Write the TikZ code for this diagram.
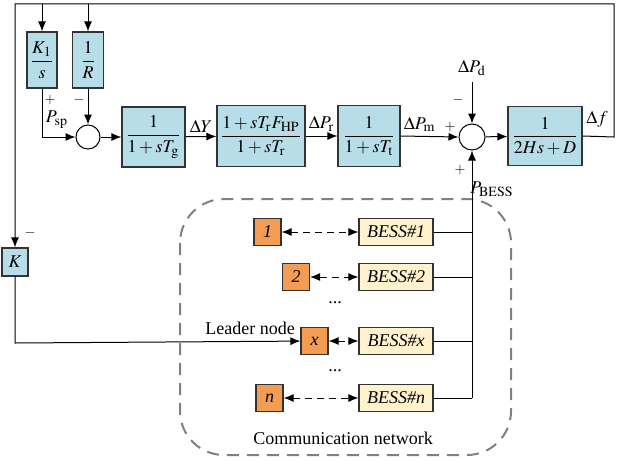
\documentclass[tikz,border=0pt]{standalone}
\usepackage{amsmath}
\usepackage{mathptmx}
\usepackage{fontspec}
\setmainfont{Liberation Serif}
\usetikzlibrary{arrows.meta}

\definecolor{blockblue}{RGB}{182,221,232}
\definecolor{essorange}{RGB}{243,156,84}
\definecolor{besscream}{RGB}{255,242,204}
\definecolor{netgray}{RGB}{128,128,128}

\begin{document}
\begin{tikzpicture}[
    x=0.5pt, y=-0.5pt,
    font=\fontsize{9}{10}\selectfont,
    block/.style = {draw=black!80, fill=blockblue, line width=0.6pt, inner sep=0pt, minimum width=#1},
    block/.default = 30,
    sumnode/.style = {circle, draw, line width=0.5pt, minimum size=12pt, inner sep=0pt},
    ess/.style = {draw=black!80, fill=essorange, line width=0.6pt, minimum size=13.5pt, inner sep=0pt},
    bess/.style = {draw=black!80, fill=besscream, line width=0.6pt, minimum width=37pt, minimum height=13.5pt, inner sep=0pt},
    wire/.style = {line width=0.5pt},
    signal/.style = {wire, -{Latex[length=5pt,width=4pt]}},
    link/.style = {wire, dashed, dash pattern=on 3.5pt off 2.5pt, {Latex[length=5pt,width=4pt]}-{Latex[length=5pt,width=4pt]}},
    sign/.style = {inner sep=0pt, font=\fontsize{7}{7}\selectfont},
    ]
    \useasboundingbox (0,0) rectangle (624,460);

    % communication network
    \draw[netgray, line width=1pt, dash pattern=on 6pt off 4pt, rounded corners=22pt] (180,199) rectangle (511,455);
    \node (netlabel) at (343,438) {Communication network};

    % control loop
    \node[block=15pt, minimum height=28pt] (ki) at (42,60) {$\dfrac{K_1}{s}$};
    \node[block=15.5pt, minimum height=28pt] (droop) at (88,60) {$\dfrac{1}{R}$};
    \node[sumnode] (sum1) at (88,137) {};
    \node[block=31.5pt, minimum height=30pt] (gov) at (153.5,137) {$\dfrac{1}{1+sT_{\mathrm{g}}}$};
    \node[block=44pt, minimum height=30.5pt] (reheat) at (261,136) {$\dfrac{1+sT_{\mathrm{r}}F_{\mathrm{HP}}}{1+sT_{\mathrm{r}}}$};
    \node[block=31pt, minimum height=30.5pt] (turb) at (369,136) {$\dfrac{1}{1+sT_{\mathrm{t}}}$};
    \node[sumnode, minimum size=13pt] (sum2) at (472,137) {};
    \node[block=37pt, minimum height=29.5pt] (load) at (545,136) {$\dfrac{1}{2Hs+D}$};
    \node[block=13pt, minimum height=14pt] (kgain) at (15,262) {$K$};
    \node[inner sep=1pt] (dpd) at (472,68) {$\Delta P_{\mathrm{d}}$};

    \coordinate (fright) at (614,137);
    \coordinate (ftopr) at (614,4);
    \coordinate (ftopl) at (15,4);
    \coordinate (dpdin) at (472,82);

    % BESS units
    \node[ess] (e1) at (267.5,232) {\textit{1}};
    \node[ess] (e2) at (296,277) {\textit{2}};
    \node[ess] (ex) at (314.5,341) {\textit{x}};
    \node[ess] (en) at (269.5,398) {\textit{n}};
    \node[bess] (b1) at (396,232) {\textit{BESS\#1}};
    \node[bess] (b2) at (396,277) {\textit{BESS\#2}};
    \node[bess] (bx) at (396,341) {\textit{BESS\#x}};
    \node[bess] (bn) at (396,398) {\textit{BESS\#n}};
    \node (dots1) at (335,303) {...};
    \node (dots2) at (335,371) {...};

    \coordinate (bus1) at (472,232);
    \coordinate (bus2) at (472,277);
    \coordinate (busx) at (472,341);
    \coordinate (busn) at (472,398);
    \coordinate (lead) at (15,343);

    % feedback path
    \draw[signal] (load.east) -- (fright) -- (ftopr) -- (ftopl) -- (kgain);
    \draw[signal] (ki |- ftopl) -- (ki);
    \draw[signal] (droop |- ftopl) -- (droop);
    \draw[signal] (ki.south) |- (sum1.west);
    \draw[signal] (droop) -- (sum1);
    \draw[signal] (sum1) -- (gov);
    \draw[signal] (gov) -- node[above, inner sep=2pt] {$\Delta Y$} (reheat);
    \draw[signal] (reheat) -- node[above, inner sep=2pt] {$\Delta P_{\mathrm{r}}$} (turb);
    \draw[signal] (turb.east) -- node[above, inner sep=2pt, pos=0.33] {$\Delta P_{\mathrm{m}}$} (sum2.west);
    \draw[signal] (dpdin) -- (sum2);
    \draw[signal] (sum2) -- (load);
    \node (dflabel) at (597,119) {$\Delta f$};

    \node[sign] (s1) at (50,100) {$+$};
    \node (psp) at (57,120) {$P_{\mathrm{sp}}$};
    \node[sign] (s2) at (79,100) {$-$};
    \node[sign] (s3) at (450,127) {$+$};
    \node[sign] (s4) at (458,100) {$-$};
    \node[sign] (s5) at (460,170) {$+$};
    \node (pbess) at (492,189) {$P_{\mathrm{BESS}}$};
    \node[sign] (s6) at (30,233) {$-$};

    % BESS bus
    \draw[wire] (b1) -- (bus1);
    \draw[wire] (b2) -- (bus2);
    \draw[wire] (bx) -- (busx);
    \draw[wire] (bn) -- (busn);
    \draw[signal] (busn) -- (sum2);

    % leader signal and communication
    \draw[signal] (kgain) -- (lead) -- (ex);
    \node (leader) at (250,328) {Leader node};
    \draw[link] (e1) -- (b1);
    \draw[link] (e2) -- (b2);
    \draw[link] (ex) -- (bx);
    \draw[link] (en) -- (bn);
\end{tikzpicture}
\end{document}
